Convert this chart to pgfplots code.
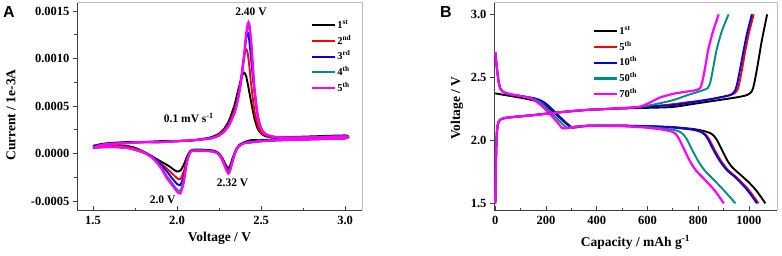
\documentclass[border=0pt]{standalone}
\usepackage{fontspec}
\setmainfont{Liberation Serif}
\newfontfamily\arialfont{Liberation Sans}
\usepackage{pgfplots}
\pgfplotsset{compat=1.18}
\definecolor{cteal}{RGB}{0,140,130}
\definecolor{cblue}{RGB}{0,0,230}
\definecolor{cred}{RGB}{255,0,0}
\definecolor{cmag}{RGB}{255,0,255}
\pgfplotsset{
 myaxis/.style={
  scale only axis,
  axis lines=left,
  axis line style={-, black!75, line width=0.6pt},
  tick style={black!75, line width=0.6pt},
  xtick align=inside, ytick align=outside,
  major tick length=4pt, minor tick length=2.5pt,
  tick label style={font=\bfseries\fontsize{12.5}{13}\selectfont},
  xticklabel style={yshift=-3pt},
  label style={font=\bfseries\fontsize{13.5}{15}\selectfont},
  legend cell align=left,
  legend image code/.code={\draw[#1, line width=2.2pt] (0pt,0pt) -- (23pt,0pt);},
  legend style={draw=none, fill=none, font=\bfseries\fontsize{10.5}{12}\selectfont, row sep=2pt, nodes={inner sep=1pt, text height=9pt, text depth=2.7pt}, inner xsep=0pt, inner ysep=0pt},
  every axis plot/.append style={line width=1.9pt, smooth, tension=0.4},
  after end axis/.code={\draw[black!25, line width=0.8pt] (rel axis cs:0,1) -- (rel axis cs:1,1) -- (rel axis cs:1,0);},
 }
}
\begin{document}
\begin{tikzpicture}
\useasboundingbox (0,0) rectangle (782pt,255pt);
\node[font=\arialfont\bfseries\fontsize{16}{16}\selectfont, anchor=north west, inner sep=0pt] at (3pt,248.3pt) {A};
\node[font=\arialfont\bfseries\fontsize{16}{16}\selectfont, anchor=north west, inner sep=0pt] at (440pt,248.3pt) {B};
% ---------------- Panel A ----------------
\begin{axis}[myaxis, at={(77pt,45pt)}, anchor=south west, width=285pt, height=208pt,
  xmin=1.405, xmax=3.10, ymin=-0.000595, ymax=0.001595,
  xtick={1.5,2,2.5,3}, xticklabels={1.5,2.0,2.5,3.0}, minor x tick num=1,
  ytick={-0.0005,0,0.0005,0.001,0.0015}, yticklabels={-0.0005,0.0000,0.0005,0.0010,0.0015},
  minor y tick num=1, scaled y ticks=false,
  xlabel={Voltage / V}, ylabel={Current / 1e-3A},
  xlabel style={at={(axis description cs:0.5,-0.135)}, anchor=center},
  ylabel style={at={(axis description cs:-0.232,0.457)}, anchor=center},
  legend style={at={(0.821,0.922)}, anchor=north west}]
\addplot[black] coordinates {
(1.50,0.00008)(1.55,0.00010)(1.60,0.00011)(1.70,0.00012)(1.80,0.00012)(1.90,0.00013)(2.00,0.00013)(2.10,0.00014)(2.20,0.00017)(2.25,0.00021)(2.28,0.00026)(2.31,0.00035)(2.34,0.00050)(2.36,0.00064)(2.38,0.00078)(2.39,0.00083)(2.40,0.00085)(2.41,0.00082)(2.42,0.00074)(2.44,0.00055)(2.46,0.00037)(2.48,0.00026)(2.50,0.00021)(2.53,0.00018)(2.60,0.00017)(2.80,0.00018)(3.00,0.00019)
(3.00,0.00017)(2.80,0.00016)(2.60,0.00015)(2.50,0.00014)(2.44,0.00014)(2.40,0.00012)(2.37,0.00009)(2.35,0.00004)(2.33,-0.00005)(2.315,-0.00013)(2.305,-0.00016)(2.29,-0.00012)(2.27,-0.00005)(2.25,0.00000)(2.22,0.00003)(2.15,0.00004)(2.10,0.00004)(2.08,0.00003)(2.06,-0.00003)(2.04,-0.00012)(2.02,-0.00018)(2.00,-0.00019)(1.98,-0.00017)(1.95,-0.00013)(1.92,-0.00010)(1.90,-0.00008)(1.87,-0.00005)(1.84,-0.00002)(1.80,0.00002)(1.75,0.00006)(1.70,0.00008)(1.60,0.00009)(1.50,0.00008)};
\addlegendentry{1\textsuperscript{st}}
\addplot[cred] coordinates {
(1.50,0.00007)(1.55,0.00009)(1.60,0.00010)(1.70,0.00011)(1.80,0.00012)(1.90,0.00012)(2.00,0.00013)(2.10,0.00014)(2.20,0.00016)(2.25,0.00020)(2.28,0.00025)(2.31,0.00032)(2.34,0.00045)(2.36,0.00058)(2.38,0.00078)(2.39,0.00092)(2.40,0.00104)(2.41,0.00110)(2.42,0.00106)(2.43,0.00092)(2.44,0.00074)(2.46,0.00045)(2.48,0.00030)(2.50,0.00022)(2.53,0.00019)(2.60,0.00017)(2.80,0.00017)(3.00,0.00018)
(3.00,0.00016)(2.80,0.00015)(2.60,0.00014)(2.50,0.00013)(2.45,0.00012)(2.40,0.00011)(2.37,0.00008)(2.35,0.00003)(2.33,-0.00008)(2.315,-0.00017)(2.305,-0.00019)(2.29,-0.00014)(2.27,-0.00006)(2.25,-0.00001)(2.22,0.00002)(2.15,0.00003)(2.10,0.00003)(2.08,0.00002)(2.06,-0.00006)(2.04,-0.00019)(2.02,-0.00027)(2.00,-0.00026)(1.97,-0.00021)(1.94,-0.00016)(1.90,-0.00010)(1.85,-0.00003)(1.80,0.00002)(1.75,0.00005)(1.70,0.00007)(1.60,0.00008)(1.50,0.00007)};
\addlegendentry{2\textsuperscript{nd}}
\addplot[cblue] coordinates {
(1.50,0.00007)(1.55,0.00009)(1.60,0.00010)(1.70,0.00011)(1.80,0.00012)(1.90,0.00012)(2.00,0.00013)(2.10,0.00014)(2.20,0.00016)(2.25,0.00019)(2.28,0.00024)(2.31,0.00031)(2.34,0.00043)(2.36,0.00056)(2.38,0.00076)(2.40,0.00104)(2.41,0.00120)(2.418,0.00127)(2.425,0.00125)(2.435,0.00110)(2.45,0.00082)(2.47,0.00050)(2.49,0.00032)(2.52,0.00021)(2.60,0.00017)(2.80,0.00017)(3.00,0.00018)
(3.00,0.00016)(2.80,0.00015)(2.60,0.00014)(2.50,0.00013)(2.45,0.00012)(2.40,0.00011)(2.37,0.00008)(2.35,0.00003)(2.33,-0.00008)(2.315,-0.00018)(2.305,-0.00020)(2.29,-0.00015)(2.27,-0.00007)(2.25,-0.00001)(2.22,0.00002)(2.15,0.00003)(2.10,0.00003)(2.08,0.00002)(2.06,-0.00007)(2.04,-0.00024)(2.02,-0.00033)(2.00,-0.00032)(1.97,-0.00026)(1.94,-0.00019)(1.90,-0.00011)(1.85,-0.00003)(1.80,0.00001)(1.75,0.00004)(1.70,0.00006)(1.60,0.00007)(1.50,0.00006)};
\addlegendentry{3\textsuperscript{rd}}
\addplot[cteal] coordinates {
(1.50,0.00006)(1.55,0.00009)(1.60,0.00010)(1.70,0.00011)(1.80,0.00012)(1.90,0.00012)(2.00,0.00013)(2.10,0.00014)(2.20,0.00016)(2.25,0.00019)(2.28,0.00023)(2.31,0.00030)(2.34,0.00042)(2.36,0.00055)(2.38,0.00075)(2.40,0.00104)(2.41,0.00122)(2.42,0.00133)(2.425,0.00135)(2.43,0.00133)(2.44,0.00117)(2.45,0.00092)(2.46,0.00068)(2.48,0.00039)(2.50,0.00026)(2.53,0.00020)(2.60,0.00017)(2.80,0.00017)(3.00,0.00018)
(3.00,0.00016)(2.80,0.00015)(2.60,0.00014)(2.50,0.00013)(2.45,0.00012)(2.40,0.00011)(2.37,0.00008)(2.35,0.00003)(2.33,-0.00008)(2.315,-0.00018)(2.305,-0.00021)(2.29,-0.00016)(2.27,-0.00007)(2.25,-0.00001)(2.22,0.00002)(2.15,0.00003)(2.10,0.00003)(2.08,0.00002)(2.06,-0.00008)(2.04,-0.00028)(2.02,-0.00039)(2.00,-0.00038)(1.97,-0.00031)(1.94,-0.00024)(1.90,-0.00013)(1.85,-0.00004)(1.80,0.00001)(1.75,0.00004)(1.70,0.00006)(1.60,0.00007)(1.50,0.00006)};
\addlegendentry{4\textsuperscript{th}}
\addplot[cmag, line width=2.3pt] coordinates {
(1.50,0.00006)(1.55,0.00009)(1.60,0.00010)(1.70,0.00011)(1.80,0.00012)(1.90,0.00012)(2.00,0.00013)(2.10,0.00014)(2.20,0.00016)(2.25,0.00019)(2.28,0.00023)(2.31,0.00030)(2.34,0.00042)(2.36,0.00055)(2.38,0.00075)(2.40,0.00105)(2.41,0.00124)(2.42,0.00136)(2.425,0.00138)(2.43,0.00136)(2.44,0.00120)(2.45,0.00095)(2.46,0.00070)(2.48,0.00040)(2.50,0.00026)(2.53,0.00020)(2.60,0.00017)(2.80,0.00017)(3.00,0.00018)
(3.00,0.00016)(2.80,0.00015)(2.60,0.00014)(2.50,0.00013)(2.45,0.00012)(2.40,0.00011)(2.37,0.00008)(2.35,0.00003)(2.33,-0.00008)(2.315,-0.00018)(2.305,-0.00021)(2.29,-0.00016)(2.27,-0.00007)(2.25,-0.00001)(2.22,0.00002)(2.15,0.00003)(2.10,0.00003)(2.08,0.00002)(2.06,-0.00008)(2.04,-0.00030)(2.02,-0.00042)(2.00,-0.00040)(1.97,-0.00033)(1.94,-0.00026)(1.90,-0.00014)(1.85,-0.00004)(1.80,0.00001)(1.75,0.00004)(1.70,0.00006)(1.60,0.00007)(1.50,0.00006)};
\addlegendentry{5\textsuperscript{th}}
\node[font=\bfseries\fontsize{11.5}{12}\selectfont] at (axis cs:2.44,0.00149) {2.40 V};
\node[font=\bfseries\fontsize{11.5}{12}\selectfont] at (axis cs:2.07,0.000376) {0.1 mV s\textsuperscript{-1}};
\node[font=\bfseries\fontsize{11.5}{12}\selectfont] at (axis cs:2.33,-0.00031) {2.32 V};
\node[font=\bfseries\fontsize{11.5}{12}\selectfont] at (axis cs:1.914,-0.00049) {2.0 V};
\end{axis}
% ---------------- Panel B ----------------
\begin{axis}[myaxis, at={(494pt,45pt)}, anchor=south west, width=283pt, height=208pt,
  xmin=-5, xmax=1111, ymin=1.447, ymax=3.098,
  xtick={0,200,400,600,800,1000}, xticklabels={0,200,400,600,800,1000}, minor x tick num=1,
  ytick={1.5,2,2.5,3}, yticklabels={1.5,2.0,2.5,3.0},
  xlabel={Capacity / mAh g\textsuperscript{-1}}, ylabel={Voltage / V},
  xlabel style={at={(axis description cs:0.5,-0.155)}, anchor=center},
  ylabel style={at={(axis description cs:-0.131,0.49)}, anchor=center},
  legend style={at={(0.35,0.893)}, anchor=north west}]
% discharge
\addplot[black] coordinates {(0,2.373)(30,2.362)(60,2.352)(100,2.338)(140,2.322)(170,2.305)(200,2.272)(230,2.225)(265,2.16)(290,2.115)(305,2.100)(320,2.103)(350,2.112)(400,2.116)(500,2.115)(600,2.112)(700,2.105)(780,2.09)(820,2.075)(845,2.06)(860,2.04)(875,2.00)(890,1.94)(905,1.88)(918,1.83)(935,1.785)(965,1.73)(998,1.67)(1030,1.60)(1065,1.50)};
\addlegendentry{1\textsuperscript{st}}
\addplot[cred] coordinates {(0,2.70)(5,2.60)(12,2.48)(20,2.41)(30,2.385)(60,2.365)(100,2.352)(150,2.335)(180,2.315)(200,2.29)(230,2.235)(265,2.165)(290,2.12)(300,2.105)(320,2.108)(350,2.115)(400,2.118)(500,2.117)(600,2.112)(700,2.102)(780,2.085)(815,2.065)(832,2.04)(846,2.00)(861,1.94)(880,1.87)(898,1.815)(920,1.76)(955,1.70)(998,1.61)(1038,1.50)};
\addlegendentry{5\textsuperscript{th}}
\addplot[cblue] coordinates {(0,2.70)(5,2.60)(12,2.48)(20,2.41)(30,2.385)(60,2.365)(100,2.352)(150,2.335)(180,2.315)(200,2.29)(230,2.235)(265,2.165)(290,2.12)(300,2.105)(320,2.108)(350,2.115)(400,2.118)(500,2.117)(600,2.112)(700,2.102)(780,2.085)(812,2.065)(828,2.04)(841,2.00)(856,1.94)(875,1.87)(893,1.815)(915,1.76)(950,1.70)(992,1.61)(1032,1.50)};
\addlegendentry{10\textsuperscript{th}}
\addplot[cteal] coordinates {(0,2.70)(5,2.60)(12,2.48)(20,2.41)(30,2.385)(60,2.365)(100,2.352)(140,2.335)(165,2.315)(190,2.28)(220,2.22)(250,2.16)(275,2.11)(285,2.098)(300,2.104)(340,2.113)(400,2.116)(500,2.114)(600,2.105)(680,2.09)(720,2.075)(740,2.05)(755,2.01)(770,1.95)(788,1.88)(805,1.82)(826,1.76)(865,1.68)(903,1.60)(947,1.50)};
\addlegendentry{50\textsuperscript{th}}
\addplot[cmag, line width=2.2pt] coordinates {(0,2.70)(5,2.60)(12,2.48)(20,2.41)(30,2.385)(60,2.365)(100,2.352)(140,2.333)(160,2.31)(180,2.28)(205,2.23)(240,2.155)(262,2.10)(272,2.094)(290,2.100)(330,2.11)(400,2.115)(500,2.112)(600,2.10)(660,2.085)(695,2.07)(712,2.05)(725,2.01)(740,1.95)(756,1.88)(772,1.82)(792,1.76)(830,1.68)(866,1.60)(901,1.50)};
\addlegendentry{70\textsuperscript{th}}
% charge
\addplot[black, forget plot] coordinates {(0,1.50)(2,1.75)(4,1.95)(7,2.08)(12,2.14)(20,2.165)(40,2.178)(80,2.187)(150,2.20)(250,2.222)(350,2.24)(450,2.25)(520,2.254)(600,2.258)(700,2.265)(800,2.295)(900,2.325)(966,2.346)(993,2.36)(1008,2.38)(1016,2.41)(1024,2.48)(1035,2.60)(1050,2.78)(1062,2.90)(1072,3.00)};
\addplot[cred, forget plot] coordinates {(0,1.50)(2,1.75)(4,1.95)(7,2.08)(12,2.14)(20,2.165)(40,2.178)(80,2.187)(150,2.20)(250,2.222)(350,2.24)(450,2.25)(520,2.256)(560,2.262)(650,2.275)(750,2.30)(850,2.325)(920,2.355)(945,2.375)(955,2.40)(963,2.46)(972,2.55)(985,2.70)(1000,2.85)(1019,3.00)};
\addplot[cblue, forget plot] coordinates {(0,1.50)(2,1.75)(4,1.95)(7,2.08)(12,2.14)(20,2.165)(40,2.178)(80,2.187)(150,2.20)(250,2.222)(350,2.24)(450,2.25)(520,2.256)(560,2.262)(650,2.275)(703,2.28)(800,2.31)(870,2.335)(927,2.36)(940,2.38)(947,2.40)(955,2.46)(965,2.56)(978,2.70)(993,2.85)(1012,3.00)};
\addplot[cteal, forget plot] coordinates {(0,1.50)(2,1.75)(4,1.95)(7,2.08)(12,2.14)(20,2.165)(40,2.178)(80,2.187)(150,2.20)(250,2.222)(350,2.24)(450,2.25)(540,2.26)(600,2.275)(650,2.295)(703,2.32)(760,2.36)(800,2.385)(822,2.40)(838,2.415)(848,2.46)(858,2.56)(873,2.72)(894,2.87)(920,3.00)};
\addplot[cmag, line width=2.2pt, forget plot] coordinates {(0,1.50)(2,1.75)(4,1.95)(7,2.08)(12,2.14)(20,2.165)(40,2.178)(80,2.187)(150,2.20)(250,2.222)(350,2.24)(450,2.25)(530,2.26)(572,2.267)(610,2.30)(650,2.34)(703,2.37)(750,2.385)(796,2.40)(808,2.415)(816,2.46)(826,2.56)(840,2.72)(858,2.86)(881,3.00)};
\end{axis}
\end{tikzpicture}
\end{document}
